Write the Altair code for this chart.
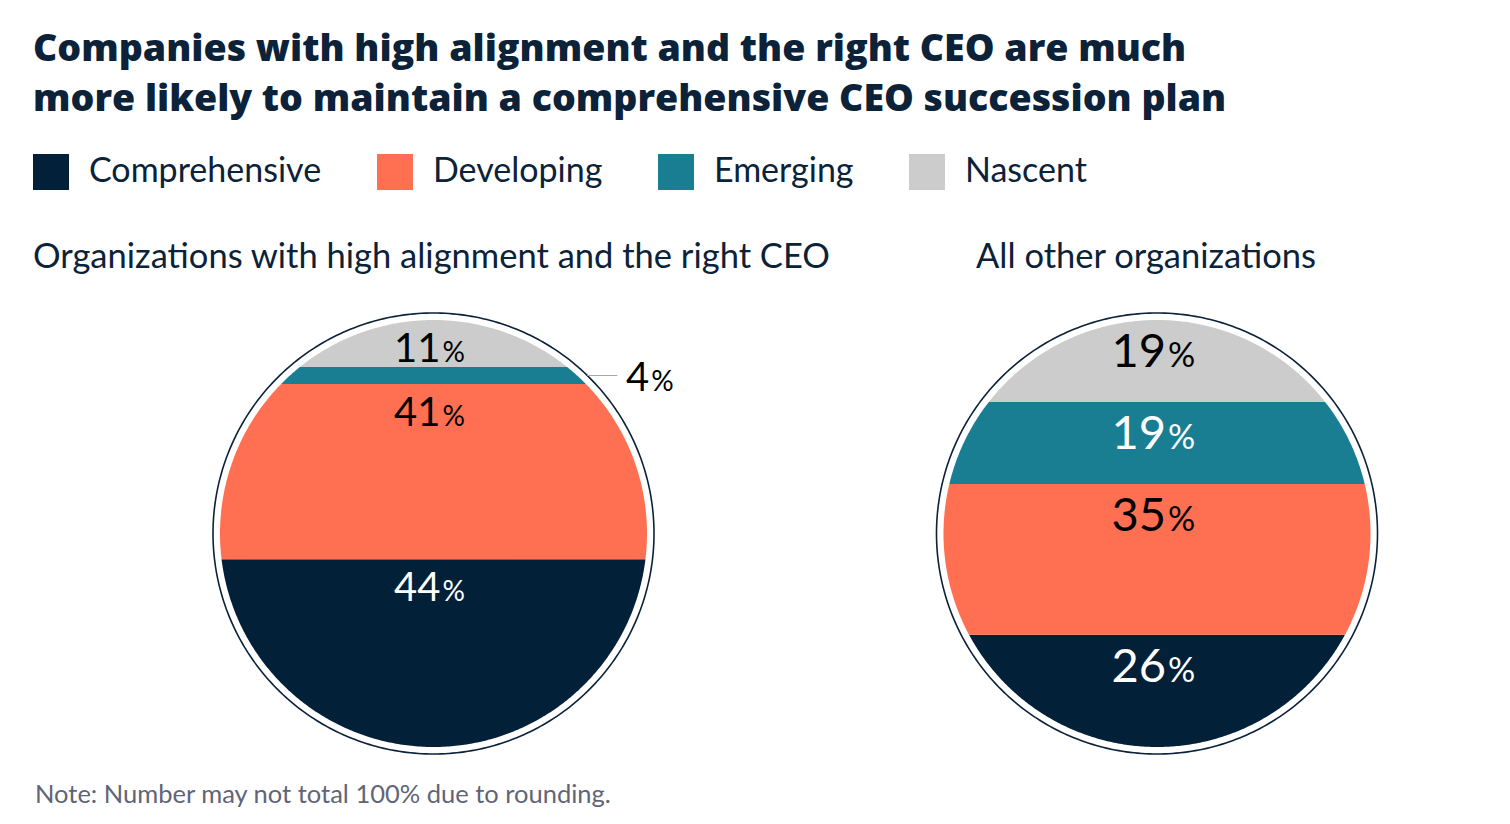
import altair as alt
import pandas as pd
import numpy as np

# ---------------- data ----------------
categories = ["Comprehensive", "Developing", "Emerging", "Nascent"]
colors = ["#022038", "#FF6F52", "#1A7E93", "#CCCCCC"]
left_values = [44, 41, 4, 11]
right_values = [26, 35, 19, 19]
left_title = "Organizations with high alignment and the right CEO"
right_title = "All other organizations"
title_lines = [
    "Companies with high alignment and the right CEO are much",
    "more likely to maintain a comprehensive CEO succession plan",
]
note_text = ["Note: Number may not total 100% due to rounding."]

# ---------------- style / geometry ----------------
NAVY = "#0B2239"
FONT = "Lato"
R = 50.0          # fill radius in data units (y runs 0..100)
R_RING = 51.64    # outline ring radius
K = 4.27          # px per data unit
Y_DOM = [-3.98, 106.09]
PANEL_H = 470


def build_frames(values):
    total = float(sum(values))
    rows, labels, outside = [], [], []
    cum = 0.0
    for cat, v in zip(categories, values):
        y0 = cum / total * 100
        cum += v
        y1 = cum / total * 100
        if y0 <= 50 <= y1:
            xmax = R
        else:
            near = y0 if abs(y0 - 50) < abs(y1 - 50) else y1
            xmax = float(np.sqrt(max(R ** 2 - (near - 50) ** 2, 0.0)))
        for phi in np.linspace(-np.pi / 2, np.pi / 2, 301):
            x = xmax * np.sin(phi)
            h = float(np.sqrt(max(R ** 2 - x ** 2, 0.0)))
            lo = max(y0, 50 - h)
            hi = max(min(y1, 50 + h), lo)
            rows.append({"cat": cat, "bx": float(x), "lo": float(lo), "hi": float(hi)})
        mid = (y0 + y1) / 2
        if v >= 5:
            labels.append({"cat": cat, "num": str(v), "top": y1})
        else:
            xs = float(np.sqrt(R_RING ** 2 - (mid - 50) ** 2))
            outside.append({"cat": cat, "num": str(v), "mid": mid,
                            "xs": xs, "xe": xs + 30 / K})
    ring = []
    for i, t in enumerate(np.linspace(0, 2 * np.pi, 361)):
        ring.append({"i": i, "rx": R_RING * np.cos(t), "ry": 50 + R_RING * np.sin(t)})
    return (pd.DataFrame(rows), pd.DataFrame(labels),
            pd.DataFrame(outside), pd.DataFrame(ring))


color_scale = alt.Scale(domain=categories, range=colors)
legend = alt.Legend(
    orient="top", direction="horizontal", title=None,
    symbolType="square", symbolSize=1296, symbolStrokeWidth=0,
    labelFontSize=34, labelFont=FONT, labelColor=NAVY, labelLimit=500,
    columnPadding=55, labelOffset=20, offset=49,
)


def panel(values, title, x_dom, width, num_size, pct_size, dy, dx,
          title_dx=0, note=None):
    bands, labels, outside, ring = build_frames(values)
    xs = alt.Scale(domain=x_dom, nice=False, zero=False)
    ys = alt.Scale(domain=Y_DOM, nice=False, zero=False)

    area = alt.Chart(bands).mark_area(interpolate="linear", opacity=1).encode(
        x=alt.X("bx:Q", scale=xs, axis=None),
        y=alt.Y("lo:Q", scale=ys, axis=None, stack=None),
        y2="hi:Q",
        color=alt.Color("cat:N", scale=color_scale, legend=legend, sort=categories),
    )
    ring_l = alt.Chart(ring).mark_line(color=NAVY, strokeWidth=1.6).encode(
        x=alt.X("rx:Q", scale=xs, axis=None),
        y=alt.Y("ry:Q", scale=ys, axis=None),
        order="i:Q",
    )
    txt_color = alt.condition(
        "datum.cat == 'Comprehensive' || datum.cat == 'Emerging'",
        alt.value("white"), alt.value("black"))
    num = alt.Chart(labels).mark_text(
        align="right", baseline="alphabetic", dx=dx - 1, dy=dy,
        fontSize=num_size, font=FONT).encode(
        x=alt.X(datum=0, scale=xs, axis=None),
        y=alt.Y("top:Q", scale=ys, axis=None),
        text="num:N", color=txt_color)
    pct = alt.Chart(labels).mark_text(
        align="left", baseline="alphabetic", dx=dx + 1, dy=dy,
        fontSize=pct_size, font=FONT).encode(
        x=alt.X(datum=0, scale=xs, axis=None),
        y=alt.Y("top:Q", scale=ys, axis=None),
        text=alt.value("%"), color=txt_color)
    layers = [area, ring_l, num, pct]
    if len(outside):
        lead = alt.Chart(outside).mark_rule(color="#AAAAAA", strokeWidth=1).encode(
            x=alt.X("xs:Q", scale=xs, axis=None), x2="xe:Q",
            y=alt.Y("mid:Q", scale=ys, axis=None))
        onum = alt.Chart(outside).mark_text(
            align="right", baseline="alphabetic", dx=32, dy=15,
            fontSize=num_size, font=FONT, color="black").encode(
            x=alt.X("xe:Q", scale=xs, axis=None),
            y=alt.Y("mid:Q", scale=ys, axis=None), text="num:N")
        opct = alt.Chart(outside).mark_text(
            align="left", baseline="alphabetic", dx=34, dy=15,
            fontSize=pct_size, font=FONT, color="black").encode(
            x=alt.X("xe:Q", scale=xs, axis=None),
            y=alt.Y("mid:Q", scale=ys, axis=None), text=alt.value("%"))
        layers += [lead, onum, opct]
    if note:
        note_l = alt.Chart(pd.DataFrame({"t": note})).mark_text(
            align="left", baseline="alphabetic", fontSize=25.5, font=FONT,
            color="#5F6577").encode(
            x=alt.value(2), y=alt.value(PANEL_H + 39), text="t:N")
        layers.append(note_l)
    return alt.layer(*layers).properties(
        width=width, height=PANEL_H,
        title=alt.TitleParams(title, anchor="start", fontSize=34.5, font=FONT,
                              fontWeight="normal", color=NAVY, offset=19,
                              dx=title_dx),
    )


left = panel(left_values, left_title,
             [-(433.5 - 33) / K, (893 - 433.5) / K], 860, 40, 28, 42, 8,
             note=note_text)
right = panel(right_values, right_title,
              [-(1157 - 930) / K, (1400 - 1157) / K], 470, 47, 34, 47, 10,
              title_dx=46)

chart = alt.hconcat(left, right, spacing=37).resolve_scale(
    x="independent", y="independent", color="shared"
).properties(
    title=alt.TitleParams(title_lines, anchor="start", fontSize=37.5,
                          font="Open Sans", fontWeight=800, color=NAVY,
                          lineHeight=50, offset=36),
    padding={"left": 25, "top": 22, "right": 10, "bottom": 10},
    background="white",
).configure_view(stroke=None)

chart.save("out.html", embed_options={"renderer": "svg", "actions": False})
